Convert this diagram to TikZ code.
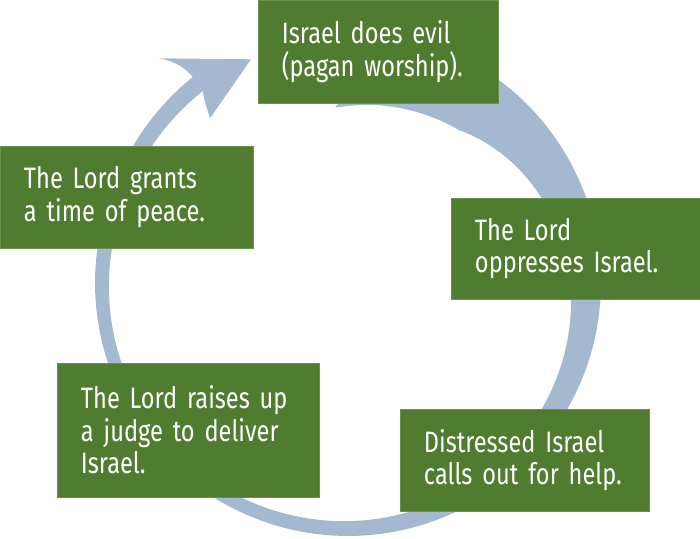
\documentclass[tikz,border=0pt]{standalone}
\usepackage{fontspec}
\setmainfont{Fira Sans}[FakeStretch=0.80]
\definecolor{leafgreen}{RGB}{80,124,48}
\definecolor{edgegreen}{RGB}{104,146,72}
\definecolor{ringblue}{RGB}{164,184,208}
\usetikzlibrary{positioning}

\begin{document}
\begin{tikzpicture}[
    x=0.025cm, y=-0.025cm,
    stagebox/.style={fill=leafgreen, draw=edgegreen, line width=0.4pt, text=white,
      inner xsep=0.6cm, inner ysep=2pt, align=left,
      font=\fontsize{21}{23.1}\selectfont},
  ]
    \useasboundingbox (0,0) rectangle (700,539);

    % the cycle arrow, polar around the ring centre
    \begin{scope}[shift={(348,283)}, x=0.025cm, y=0.025cm]
      \fill[ringblue]
        plot[domain=94:60, samples=18] (\x:{177+(94-\x)/34*76})
        -- plot[domain=60:-233, samples=150] (\x:{253+5*max(0,(-200-\x)/33)})
        .. controls (-162,214) and (-172,222) .. (-189.7,224.7)
        -- (-97,223.7) -- (-138,164.7)
        .. controls (-142,178) and (-145,186) .. (-233:241)
        -- plot[domain=-233:54, samples=150]
          (\x:{253+5*max(0,(-200-\x)/33)-(11+53*exp((\x-54)/55)+6*max(0,(-150-\x)/83))})
        -- plot[domain=54:94, samples=12] (\x:{189-(\x-54)*0.33})
        -- cycle;
    \end{scope}

    \node[stagebox, minimum width=6cm, minimum height=2.575cm, text width=4.8cm]
      (evil) at (378,51.5) {Israel does evil\\(pagan worship).};
    \node[stagebox, minimum width=6.225cm, minimum height=2.525cm, text width=5.025cm]
      (oppress) at (575.5,248.5) {The Lord\\oppresses Israel.};
    \node[stagebox, minimum width=6.225cm, minimum height=2.55cm, text width=5.025cm]
      (cry) at (524.5,460) {Distressed Israel\\calls out for help.};
    \node[stagebox, minimum width=6.55cm, minimum height=3.35cm, text width=5.35cm]
      (judge) at (188,430) {The Lord raises up\\a judge to deliver\\Israel.};
    \node[stagebox, minimum width=6.325cm, minimum height=2.55cm, text width=5.125cm]
      (peace) at (126.5,197) {The Lord grants\\a time of peace.};
\end{tikzpicture}
\end{document}
